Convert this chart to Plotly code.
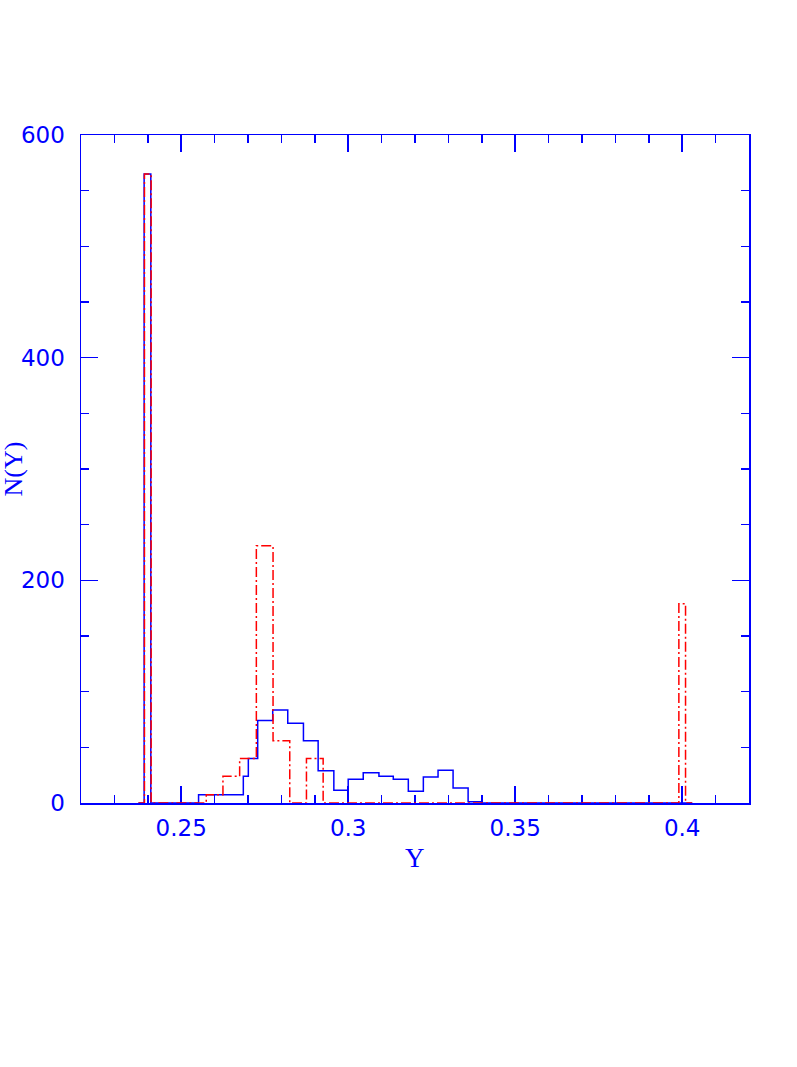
import plotly.graph_objects as go

# Blue (solid) histogram: bin edges and counts
blue_edges = [0.2372, 0.2389, 0.2409, 0.2552, 0.2686, 0.2701, 0.2729, 0.2774, 0.2819,
              0.2866, 0.2910, 0.2957, 0.3000, 0.3045, 0.3092, 0.3135, 0.3180, 0.3225,
              0.3269, 0.3314, 0.3359, 0.3399, 0.4030]
blue_counts = [0, 565, 0, 7.5, 24, 40, 74, 83.5, 71.6, 56, 29, 11.5, 21.3, 27.2, 24,
               21.3, 10.5, 23.4, 29.4, 13.5, 1.2, 0]

# Red (dash-dot) histogram: bin edges and counts
red_edges = [0.2372, 0.2390, 0.2410, 0.2575, 0.2625, 0.2675, 0.2725, 0.2775, 0.2825,
             0.2875, 0.2925, 0.3990, 0.4010, 0.4030]
red_counts = [0, 565, 0, 7.5, 24, 40, 231, 56, 0, 40, 0, 179, 0]

x_tickvals = [0.25, 0.3, 0.35, 0.4]
x_ticktext = ["0.25", "0.3", "0.35", "0.4"]
y_tickvals = [0, 200, 400, 600]
y_ticktext = ["0", "200", "400", "600"]

BLUE = "#0000ff"
RED = "#ff0000"

fig = go.Figure()
fig.add_trace(go.Scatter(x=blue_edges, y=blue_counts + [0], mode="lines",
                         line=dict(shape="hv", color=BLUE, width=1.5),
                         showlegend=False, hoverinfo="skip"))
fig.add_trace(go.Scatter(x=red_edges, y=red_counts + [0], mode="lines",
                         line=dict(shape="hv", color=RED, width=1.5, dash="10px,3px,2px,3px"),
                         showlegend=False, hoverinfo="skip"))

axis_common = dict(showline=True, linecolor=BLUE, linewidth=1.5, mirror="ticks",
                   ticks="inside", tickcolor=BLUE, tickwidth=1.5, ticklen=17,
                   showgrid=False, zeroline=False, layer="below traces",
                   tickfont=dict(family="DejaVu Sans", size=23, color=BLUE))

fig.update_xaxes(range=[0.22, 0.42], tickmode="array", tickvals=x_tickvals, ticktext=x_ticktext,
                 minor=dict(dtick=0.01, tick0=0.22, ticks="inside", ticklen=8, tickcolor=BLUE,
                            tickwidth=1.5, showgrid=False),
                 ticklabelstandoff=4, **axis_common)
fig.update_yaxes(range=[0, 600], tickmode="array", tickvals=y_tickvals, ticktext=y_ticktext,
                 minor=dict(dtick=50, tick0=0, ticks="inside", ticklen=8, tickcolor=BLUE,
                            tickwidth=1.5, showgrid=False),
                 ticklabelstandoff=10, **axis_common)

fig.add_annotation(text="Y", xref="paper", yref="paper", x=0.5, y=-0.083, showarrow=False,
                   font=dict(family="Liberation Serif", size=27, color=BLUE),
                   xanchor="center", yanchor="middle")
fig.add_annotation(text="N(Y)", xref="paper", yref="paper", x=-0.1025, y=0.5, showarrow=False,
                   textangle=-90, font=dict(family="Liberation Serif", size=26, color=BLUE),
                   xanchor="center", yanchor="middle")

fig.update_layout(width=797, height=1067, autosize=False,
                  margin=dict(l=81, r=48, t=135, b=264, autoexpand=False),
                  paper_bgcolor="white", plot_bgcolor="white")

fig.write_html("out.html", config={"displayModeBar": False, "staticPlot": True},
               post_script="document.body.style.margin='0';document.body.style.overflow='hidden';")
